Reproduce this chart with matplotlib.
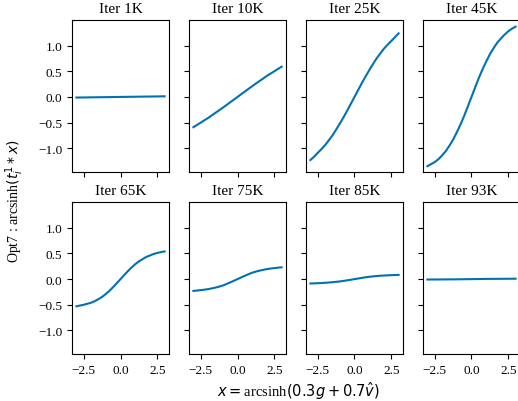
import matplotlib.pyplot as plt
import numpy as np

plt.rcParams['font.family'] = ['Liberation Serif', 'DejaVu Serif']
plt.rcParams['mathtext.fontset'] = 'dejavusans'

x = [-3.0, -2.75, -2.5, -2.25, -2.0, -1.75, -1.5, -1.25, -1.0, -0.75, -0.5, -0.25, 0.0,
     0.25, 0.5, 0.75, 1.0, 1.25, 1.5, 1.75, 2.0, 2.25, 2.5, 2.75, 3.0]

titles = ['Iter 1K', 'Iter 10K', 'Iter 25K', 'Iter 45K',
          'Iter 65K', 'Iter 75K', 'Iter 85K', 'Iter 93K']

it_1k = [-0.012, -0.011, -0.010, -0.009, -0.008, -0.007, -0.006, -0.005, -0.004, -0.003, -0.002, -0.001, 0.0,
         0.001, 0.002, 0.003, 0.004, 0.005, 0.006, 0.007, 0.008, 0.009, 0.010, 0.011, 0.012]
it_10k = [-0.59, -0.545, -0.50, -0.455, -0.41, -0.36, -0.31, -0.26, -0.21, -0.158, -0.105, -0.053, 0.0,
          0.053, 0.105, 0.158, 0.21, 0.26, 0.31, 0.36, 0.41, 0.455, 0.50, 0.545, 0.59]
it_25k = [-1.23, -1.165, -1.09, -1.018, -0.94, -0.846, -0.75, -0.638, -0.52, -0.398, -0.27, -0.135, 0.0,
          0.135, 0.27, 0.398, 0.52, 0.638, 0.75, 0.846, 0.94, 1.018, 1.09, 1.165, 1.24]
it_45k = [-1.35, -1.31, -1.27, -1.214, -1.14, -1.056, -0.95, -0.832, -0.69, -0.538, -0.37, -0.187, 0.0,
          0.187, 0.37, 0.538, 0.69, 0.832, 0.95, 1.056, 1.14, 1.214, 1.28, 1.33, 1.37]
it_65k = [-0.53, -0.515, -0.50, -0.48, -0.46, -0.43, -0.39, -0.346, -0.29, -0.227, -0.155, -0.079, 0.0,
          0.079, 0.155, 0.227, 0.29, 0.346, 0.39, 0.432, 0.46, 0.49, 0.51, 0.526, 0.54]
it_75k = [-0.23, -0.223, -0.215, -0.206, -0.195, -0.181, -0.165, -0.147, -0.125, -0.096, -0.065, -0.033, 0.0,
          0.033, 0.065, 0.096, 0.125, 0.147, 0.165, 0.181, 0.195, 0.206, 0.215, 0.223, 0.23]
it_85k = [-0.085, -0.083, -0.080, -0.076, -0.072, -0.066, -0.060, -0.053, -0.045, -0.035, -0.024, -0.012, 0.0,
          0.012, 0.024, 0.035, 0.045, 0.053, 0.060, 0.066, 0.070, 0.074, 0.077, 0.080, 0.082]
it_93k = [-0.008, -0.0075, -0.007, -0.0065, -0.006, -0.0055, -0.005, -0.0045, -0.004, -0.003, -0.002, -0.001, 0.0,
          0.001, 0.002, 0.003, 0.004, 0.0045, 0.005, 0.0055, 0.006, 0.0065, 0.007, 0.0075, 0.008]

curves = [it_1k, it_10k, it_25k, it_45k, it_65k, it_75k, it_85k, it_93k]

fig, axes = plt.subplots(2, 4, sharex=True, sharey=True, figsize=(5.18, 4.02), dpi=100)
plt.subplots_adjust(left=72/518, right=520/518, bottom=47/402, top=1-21/402,
                    wspace=0.206, hspace=0.2)

for ax, title, y in zip(axes.flat, titles, curves):
    ax.plot(x, y, color='#0072B2', lw=1.5)
    ax.set_title(title, fontsize=11)

axes[0, 0].set_xlim(-3.3, 3.3)
axes[0, 0].set_ylim(-1.46, 1.5)
axes[0, 0].set_xticks([-2.5, 0.0, 2.5])
axes[0, 0].set_yticks([-1.0, -0.5, 0.0, 0.5, 1.0])
for ax in axes.flat:
    ax.tick_params(labelsize=9.5)

fig.text(0.028, 0.5, 'Opt7 : arcsinh$(t_i^1 * x)$', rotation=90,
         ha='center', va='center', fontsize=10)
fig.text(0.575, 0.028, '$x = $arcsinh$(0.3g + 0.7\\hat{v})$',
         ha='center', va='center', fontsize=10.5)

plt.savefig('out.png', dpi=100)
